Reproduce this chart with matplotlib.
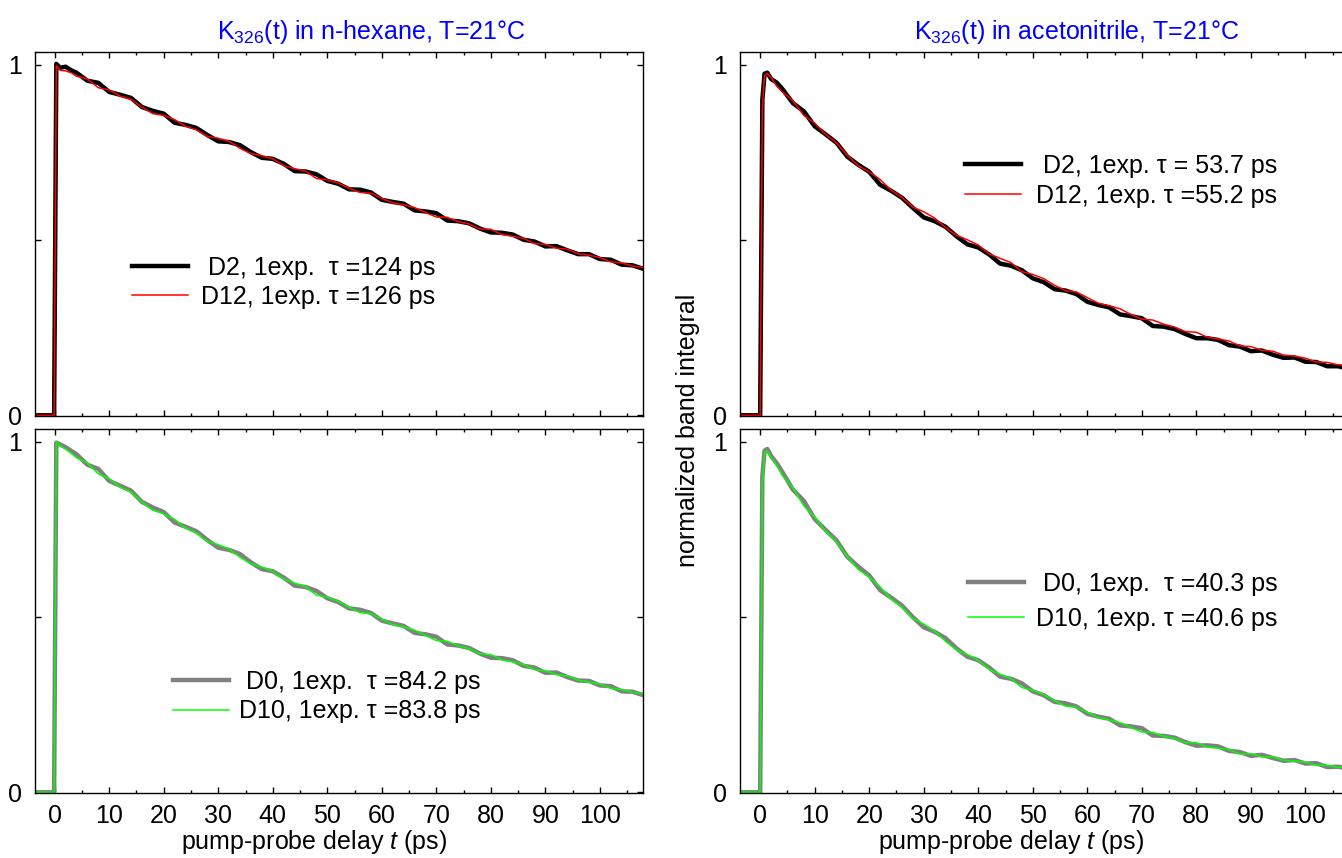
import matplotlib
matplotlib.use("Agg")
import matplotlib.pyplot as plt
from matplotlib.ticker import MultipleLocator, FixedLocator

# ---------------- data ----------------
delay_tail = [4, 6, 8, 10, 12, 14, 16, 18, 20, 22, 24, 26, 28, 30, 32, 34, 36, 38, 40,
              42, 44, 46, 48, 50, 52, 54, 56, 58, 60, 62, 64, 66, 68, 70, 72, 74, 76, 78,
              80, 82, 84, 86, 88, 90, 92, 94, 96, 98, 100, 102, 104, 106, 108]
delay_hex = [-4, -0.1, 0.3, 1.0, 2.0, 3.0] + delay_tail
delay_acn = [-4, 0.0, 0.4, 0.8, 1.3, 2.0, 3.0] + delay_tail

# n-hexane, top: D2 (black) and D12 (red)
hex_D2 = [0, 0, 1.003, 0.992, 0.995, 0.985,
          0.978, 0.955, 0.949, 0.923, 0.915, 0.906, 0.880, 0.869, 0.861, 0.835, 0.829,
          0.820, 0.800, 0.782, 0.780, 0.771, 0.751, 0.735, 0.732, 0.718, 0.697, 0.696,
          0.688, 0.669, 0.661, 0.645, 0.644, 0.636, 0.615, 0.609, 0.604, 0.585, 0.582,
          0.577, 0.556, 0.554, 0.548, 0.533, 0.522, 0.521, 0.516, 0.501, 0.496, 0.482,
          0.483, 0.471, 0.460, 0.460, 0.446, 0.444, 0.430, 0.428, 0.418]
hex_D12 = [0, 0, 0.998, 0.985, 0.983, 0.978,
           0.968, 0.960, 0.935, 0.929, 0.911, 0.902, 0.880, 0.861, 0.856, 0.844, 0.825,
           0.815, 0.796, 0.791, 0.782, 0.762, 0.747, 0.741, 0.732, 0.713, 0.704, 0.697,
           0.676, 0.672, 0.663, 0.648, 0.636, 0.634, 0.619, 0.606, 0.601, 0.593, 0.579,
           0.566, 0.565, 0.553, 0.546, 0.532, 0.531, 0.516, 0.511, 0.505, 0.490, 0.488,
           0.477, 0.474, 0.461, 0.457, 0.450, 0.438, 0.435, 0.426, 0.422]
# n-hexane, bottom: D0 (grey) and D10 (green)
hex_D0 = [0, 0, 0.998, 0.993, 0.985, 0.975,
          0.965, 0.935, 0.923, 0.889, 0.875, 0.861, 0.829, 0.813, 0.800, 0.770, 0.758,
          0.745, 0.720, 0.698, 0.692, 0.680, 0.656, 0.637, 0.631, 0.613, 0.590, 0.586,
          0.575, 0.554, 0.543, 0.525, 0.521, 0.512, 0.490, 0.482, 0.475, 0.455, 0.451,
          0.444, 0.422, 0.419, 0.412, 0.396, 0.384, 0.383, 0.377, 0.361, 0.356, 0.341,
          0.342, 0.329, 0.319, 0.318, 0.305, 0.303, 0.288, 0.287, 0.277]
hex_D10 = [0, 0, 1.000, 0.990, 0.980, 0.968,
           0.955, 0.940, 0.909, 0.895, 0.871, 0.857, 0.829, 0.805, 0.795, 0.779, 0.754,
           0.740, 0.716, 0.707, 0.694, 0.671, 0.652, 0.643, 0.631, 0.608, 0.597, 0.587,
           0.563, 0.557, 0.545, 0.528, 0.513, 0.510, 0.494, 0.479, 0.472, 0.463, 0.448,
           0.433, 0.431, 0.418, 0.410, 0.395, 0.393, 0.378, 0.372, 0.365, 0.350, 0.347,
           0.336, 0.332, 0.320, 0.315, 0.309, 0.297, 0.293, 0.285, 0.281]
# acetonitrile, top: D2 (black) and D12 (red)
acn_D2 = [0, 0, 0.90, 0.975, 0.978, 0.960, 0.950,
          0.933, 0.891, 0.868, 0.825, 0.802, 0.778, 0.738, 0.715, 0.695, 0.658, 0.641,
          0.621, 0.592, 0.565, 0.554, 0.538, 0.511, 0.488, 0.479, 0.459, 0.433, 0.427,
          0.414, 0.391, 0.380, 0.360, 0.356, 0.346, 0.324, 0.315, 0.308, 0.288, 0.283,
          0.277, 0.255, 0.253, 0.246, 0.232, 0.220, 0.220, 0.215, 0.200, 0.196, 0.183,
          0.185, 0.173, 0.164, 0.165, 0.153, 0.152, 0.140, 0.140, 0.132]
acn_D12 = [0, 0, 0.88, 0.970, 0.975, 0.965, 0.940,
           0.924, 0.898, 0.856, 0.834, 0.802, 0.778, 0.742, 0.712, 0.695, 0.673, 0.643,
           0.622, 0.594, 0.581, 0.563, 0.536, 0.514, 0.501, 0.486, 0.461, 0.448, 0.436,
           0.410, 0.402, 0.390, 0.371, 0.356, 0.352, 0.336, 0.320, 0.313, 0.304, 0.288,
           0.274, 0.272, 0.260, 0.252, 0.239, 0.237, 0.223, 0.218, 0.212, 0.198, 0.196,
           0.186, 0.183, 0.172, 0.169, 0.163, 0.152, 0.151, 0.144, 0.142]
# acetonitrile, bottom: D0 (grey) and D10 (green)
acn_D0 = [0, 0, 0.90, 0.975, 0.980, 0.960, 0.940,
          0.916, 0.864, 0.832, 0.780, 0.749, 0.719, 0.672, 0.644, 0.619, 0.577, 0.556,
          0.533, 0.500, 0.471, 0.458, 0.440, 0.411, 0.387, 0.377, 0.356, 0.330, 0.324,
          0.311, 0.288, 0.277, 0.258, 0.254, 0.245, 0.224, 0.216, 0.210, 0.191, 0.188,
          0.183, 0.162, 0.161, 0.156, 0.143, 0.133, 0.134, 0.131, 0.118, 0.115, 0.104,
          0.107, 0.098, 0.090, 0.092, 0.082, 0.083, 0.072, 0.073, 0.067]
acn_D10 = [0, 0, 0.88, 0.970, 0.975, 0.955, 0.935,
           0.906, 0.869, 0.818, 0.786, 0.745, 0.715, 0.672, 0.636, 0.614, 0.586, 0.552,
           0.528, 0.496, 0.480, 0.460, 0.431, 0.407, 0.393, 0.377, 0.351, 0.337, 0.325,
           0.299, 0.291, 0.279, 0.261, 0.246, 0.243, 0.228, 0.213, 0.207, 0.199, 0.185,
           0.172, 0.171, 0.160, 0.154, 0.142, 0.142, 0.129, 0.126, 0.122, 0.109, 0.110,
           0.101, 0.101, 0.091, 0.089, 0.086, 0.077, 0.077, 0.071, 0.071]

titles = ["K$_{326}$(t) in n-hexane, T=21°C", "K$_{326}$(t) in acetonitrile, T=21°C"]
labels_tl = [" D2, 1exp.  τ =124 ps", "D12, 1exp. τ =126 ps"]
labels_bl = [" D0, 1exp.  τ =84.2 ps", "D10, 1exp. τ =83.8 ps"]
labels_tr = [" D2, 1exp. τ = 53.7 ps", "D12, 1exp. τ =55.2 ps"]
labels_br = [" D0, 1exp.  τ =40.3 ps", "D10, 1exp. τ =40.6 ps"]

# ---------------- styling ----------------
plt.rcParams['font.family'] = ['Liberation Sans', 'DejaVu Sans']
plt.rcParams['mathtext.fontset'] = 'custom'
plt.rcParams['mathtext.rm'] = 'Liberation Sans'
plt.rcParams['mathtext.it'] = 'Liberation Sans:italic'
plt.rcParams['mathtext.bf'] = 'Liberation Sans:bold'

FS = 18
W, H = 1342, 858
fig = plt.figure(figsize=(W / 100, H / 100), dpi=100)


def px_axes(l, t, r, b):
    return fig.add_axes([l / W, 1 - b / H, (r - l) / W, (b - t) / H])


ax_tl = px_axes(34.5, 52, 643, 416)
ax_bl = px_axes(34.5, 429, 643, 793)
ax_tr = px_axes(740, 52, 1348.5, 416)
ax_br = px_axes(740, 429, 1348.5, 793)


def style(ax, xlabels):
    ax.set_xlim(-3.7, 107.9)
    ax.set_ylim(-0.002, 1.037)
    ax.xaxis.set_major_locator(MultipleLocator(10))
    ax.xaxis.set_minor_locator(MultipleLocator(5))
    ax.yaxis.set_major_locator(FixedLocator([0, 1]))
    ax.yaxis.set_minor_locator(FixedLocator([0.5]))
    ax.set_yticklabels(['0', '1'])
    ax.tick_params(which='both', direction='in', top=True, right=True, width=1.0,
                   labelsize=FS, colors='black')
    ax.tick_params(which='major', length=4.5)
    ax.tick_params(axis='x', which='minor', length=2.5)
    ax.tick_params(axis='y', which='minor', length=4.5)
    ax.tick_params(axis='x', pad=8)
    ax.tick_params(axis='y', pad=9)
    if not xlabels:
        ax.tick_params(axis='x', labelbottom=False)
    for s in ax.spines.values():
        s.set_linewidth(1.0)


def legend(ax, x, y, pad, spacing=0.22):
    ax.legend(loc='center left', bbox_to_anchor=(x, y), frameon=False, fontsize=FS,
              handlelength=2.25, handletextpad=pad, labelspacing=spacing,
              borderpad=0, borderaxespad=0)


# top-left: n-hexane D2 / D12
ax_tl.plot(delay_hex, hex_D2, color='black', lw=3.2, label=labels_tl[0])
ax_tl.plot(delay_hex, hex_D12, color='#ff0000', lw=1.1, label=labels_tl[1])
style(ax_tl, False)
legend(ax_tl, 0.160, 0.367, 0.5)
ax_tl.set_title(titles[0], color='#0000ff', fontsize=FS, x=0.553, pad=9)

# bottom-left: n-hexane D0 / D10
ax_bl.plot(delay_hex, hex_D0, color='#808080', lw=3.2, label=labels_bl[0])
ax_bl.plot(delay_hex, hex_D10, color='#00ff00', lw=1.1, label=labels_bl[1])
style(ax_bl, True)
legend(ax_bl, 0.228, 0.265, 0.4)
ax_bl.set_xlabel('pump-probe delay $t$ (ps)', fontsize=FS, x=0.459, labelpad=0)

# top-right: acetonitrile D2 / D12
ax_tr.plot(delay_acn, acn_D2, color='black', lw=3.2, label=labels_tr[0])
ax_tr.plot(delay_acn, acn_D12, color='#ff0000', lw=1.1, label=labels_tr[1])
style(ax_tr, False)
legend(ax_tr, 0.370, 0.646, 0.6)
ax_tr.set_title(titles[1], color='#0000ff', fontsize=FS, x=0.553, pad=9)

# bottom-right: acetonitrile D0 / D10
ax_br.plot(delay_acn, acn_D0, color='#808080', lw=3.2, label=labels_br[0])
ax_br.plot(delay_acn, acn_D10, color='#00ff00', lw=1.1, label=labels_br[1])
style(ax_br, True)
legend(ax_br, 0.375, 0.527, 0.45, spacing=0.45)
ax_br.set_xlabel('pump-probe delay $t$ (ps)', fontsize=FS, x=0.446, labelpad=0)

fig.text(688 / W, 1 - 430 / H, 'normalized band integral', rotation=90,
         ha='center', va='center', fontsize=FS)

fig.savefig('out.png', dpi=100)
